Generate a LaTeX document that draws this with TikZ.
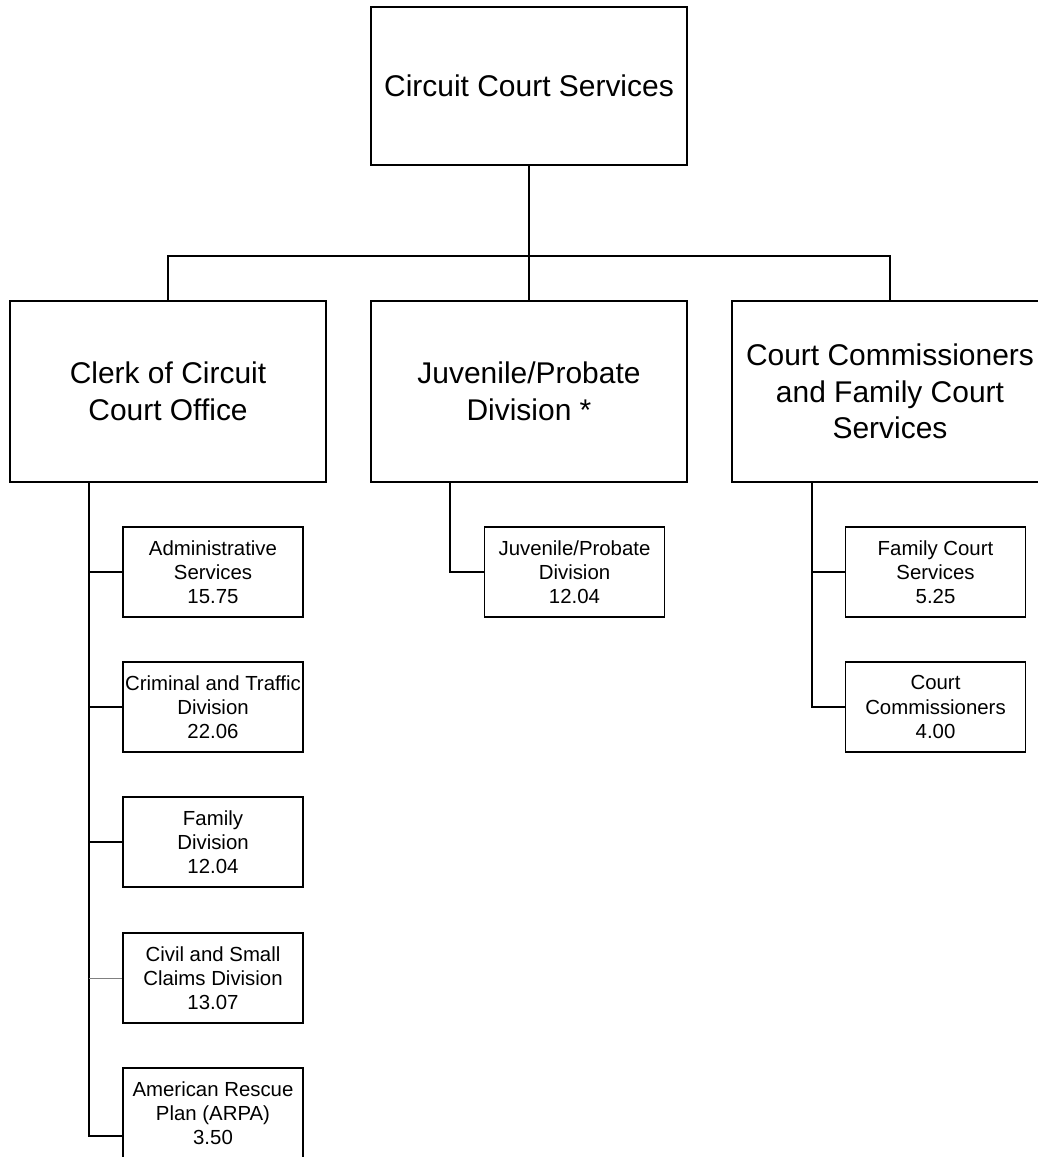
\documentclass[tikz,border=0pt]{standalone}
\usepackage{fontspec}
\setmainfont{Liberation Sans}
\begin{document}
\begin{tikzpicture}[x=0.025cm, y=-0.025cm,
  headbox/.style={draw, line width=1pt, minimum width=7.9cm, minimum height=4.525cm, align=center, font=\fontsize{21.3}{26}\selectfont},
  unitbox/.style={draw, line width=0.9pt, minimum width=4.5cm, minimum height=2.25cm, inner xsep=0.5pt, align=center, font=\fontsize{14.5}{17.2}\selectfont},
  link/.style={line width=0.9pt}]
  \useasboundingbox (0,0) rectangle (1038,1157); % page frame

  % Top of the chart
  \node[headbox, minimum height=3.95cm] (services) at (529,86) {Circuit Court Services};

  % Second level
  \node[headbox] (clerk) at (168,391.5) {Clerk of Circuit\\Court Office};
  \node[headbox] (juvenile) at (529,391.5) {Juvenile/Probate\\Division *};
  \node[headbox] (commish) at (890,391.5) {Court Commissioners\\and Family Court\\Services};

  \coordinate (split) at (529,256); % branch point
  \draw[link] (services) -- (split);
  \draw[link] (split) -- (juvenile);
  \draw[link] (split) -| (clerk.north);
  \draw[link] (split) -| (commish.north);

  % Clerk units
  \node[unitbox] (admin) at (213,572) {Administrative\\Services\\15.75};
  \node[unitbox] (criminal) at (213,707) {Criminal and Traffic\\Division\\22.06};
  \node[unitbox] (family) at (213,842) {Family\\Division\\12.04};
  \node[unitbox] (civil) at (213,978) {Civil and Small\\Claims Division\\13.07};
  \node[unitbox] (arpa) at (213,1113) {American Rescue\\Plan (ARPA)\\3.50};

  \coordinate (clerkspine) at (89,482);
  \foreach \u in {admin,criminal,family} {
    \draw[link] (clerkspine) |- (\u.west); % stub to each unit
  }
  \draw[link] (clerkspine) |- ([yshift=-0.575cm]arpa.west);
  \draw[gray, line width=0.7pt] (clerkspine |- civil.west) -- (civil.west); % lighter stub

  % Juvenile unit
  \node[unitbox] (juvdiv) at (574.5,572) {Juvenile/Probate\\Division\\12.04};
  \coordinate (juvspine) at (450,482);
  \draw[link] (juvspine) |- (juvdiv.west);

  % Commissioner units
  \node[unitbox] (fcs) at (935.5,572) {Family Court\\Services\\5.25};
  \node[unitbox] (commissioners) at (935.5,707) {Court\\Commissioners\\4.00};
  \coordinate (commspine) at (812,482);
  \draw[link] (commspine) |- (fcs.west);
  \draw[link] (commspine) |- (commissioners.west);
\end{tikzpicture}
\end{document}
